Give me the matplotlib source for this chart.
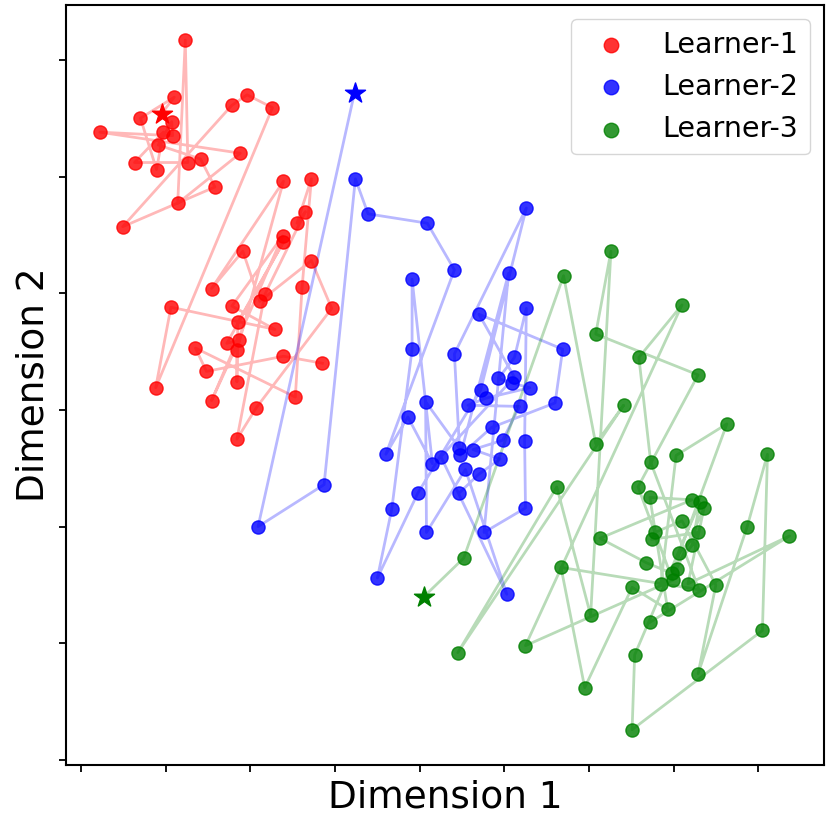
import matplotlib
matplotlib.use("Agg")
import matplotlib.pyplot as plt

# trajectories of each learner in the 2-D embedding (first point = start, drawn as a star)
learner1_x = [-30.5, -29.0, -33.0, -31.1, -30.3, -33.7, -27.4, -27.7, -28.6, -21.2,
              -37.8, -29.2, -29.3, -30.9, -25.9, -24.2, -35.1, -22.2, -20.4, -17.4,
              -31.2, -29.4, -17.1, -22.2, -16.2, -24.6, -21.3, -22.8, -16.1, -21.5,
              -21.6, -21.6, -16.1, -24.6, -20.9, -18.9, -12.8, -10.4, -19.3, -21.6,
              -18.3, -13.5, -14.5, -12.8, -13.9, -14.7, -26.5, -25.2, -16.1, -11.5]
learner1_y = [25.4, 26.8, 25.0, 20.6, 23.8, 21.2, 21.2, 31.7, 17.7, 22.0,
              23.8, 23.5, 24.7, 22.7, 21.5, 19.1, 15.7, 26.1, 27.0, 25.9,
              1.9, 8.8, 6.9, 8.9, 14.9, 0.8, 6.0, 5.7, 14.4, 7.5,
              2.4, 5.1, 19.6, 10.4, 13.6, 9.3, 12.8, 8.7, 0.2, -2.5,
              9.9, 17.0, 16.0, 19.8, 10.5, 1.1, 5.3, 3.3, 4.6, 4.0]

learner2_x = [-7.7, -19.1, -11.3, -7.6, -6.1, 0.9, 4.1, -4.0, -1.4, 1.5,
              -0.9, -0.9, -3.3, -5.0, -0.2, 7.2, 12.6, 4.1, 4.7, 0.7,
              0.8, 5.4, 10.3, 2.5, 11.2, 7.0, 16.9, 16.0, 8.5, 4.8,
              10.5, 7.6, 12.5, 12.4, 12.6, 11.2, 9.3, 10.9, 13.0, 7.8,
              5.7, 11.8, 9.8, 6.3, 9.5, 7.0, 4.7]
learner2_y = [27.2, -10.0, -6.4, 19.8, 16.8, 16.0, 12.0, -3.8, -0.6, -4.6,
              11.2, 5.2, -8.5, -14.4, -7.1, 1.7, 17.3, 4.8, -3.3, 0.7,
              -10.5, -5.1, -15.8, -4.0, 2.8, 8.2, 5.2, 0.6, -1.5, -3.9,
              11.7, -10.5, -8.4, -2.7, 8.7, 4.5, 2.7, 2.3, 1.9, 1.0,
              0.4, 0.3, -2.6, -3.4, -4.2, -5.5, -7.1]

learner3_x = [0.5, 5.2, 17.0, 20.8, 24.1, 4.5, 16.2, 20.2, 22.6, 20.8,
              32.9, 25.8, 29.9, 12.5, 31.0, 25.9, 27.3, 33.0, 16.7, 19.5,
              25.1, 29.3, 27.2, 32.2, 21.3, 26.8, 29.8, 36.3, 30.3, 28.5,
              32.2, 33.1, 25.4, 25.1, 40.5, 41.1, 38.7, 32.9, 35.0, 31.0,
              27.8, 27.4, 32.9, 30.6, 30.4, 33.6, 31.7, 43.7, 27.2]
learner3_y = [-16.0, -12.7, 11.5, -2.9, 0.4, -20.8, -6.6, -17.6, 13.6, 6.5,
              3.0, -6.6, -14.6, -20.2, 9.0, 4.5, -4.5, -15.4, -13.5, -23.8,
              -15.2, -17.1, -7.5, -7.7, -11.0, -13.1, -14.0, -1.2, -3.9, -14.9,
              -11.6, -7.9, -21.0, -27.4, -18.9, -3.8, -10.0, -22.6, -15.0, -9.5,
              -10.5, -11.1, -10.5, -12.3, -13.6, -8.4, -14.9, -10.8, -18.2]

labels = ["Learner-1", "Learner-2", "Learner-3"]
colors = ["red", "blue", "green"]
xs = [learner1_x, learner2_x, learner3_x]
ys = [learner1_y, learner2_y, learner3_y]

plt.rcParams['axes.linewidth'] = 1.5

fig = plt.figure(figsize=(8.3, 8.3), dpi=100)
ax = fig.add_axes([0.0795, 0.078, 0.9135, 0.916])

for x, y, c, lab in zip(xs, ys, colors, labels):
    ax.plot(x, y, color=c, alpha=0.28, linewidth=2, zorder=1)
    ax.scatter(x[1:], y[1:], color=c, s=90, alpha=0.8, label=lab, zorder=2)
    ax.scatter(x[:1], y[:1], color=c, marker="*", s=230, zorder=3)

ax.set_xlim(-41.8, 47.8)
ax.set_ylim(-30.45, 34.7)
ax.set_xticks(range(-40, 41, 10))
ax.set_yticks(range(-30, 31, 10))
ax.set_xticklabels([])
ax.set_yticklabels([])
ax.tick_params(width=1.3, length=5)

ax.set_xlabel("Dimension 1", fontsize=27, labelpad=2)
ax.set_ylabel("Dimension 2", fontsize=27, labelpad=2)
ax.legend(loc="upper right", fontsize=20.5, markerscale=1.1)

fig.savefig("out.png", dpi=100)
